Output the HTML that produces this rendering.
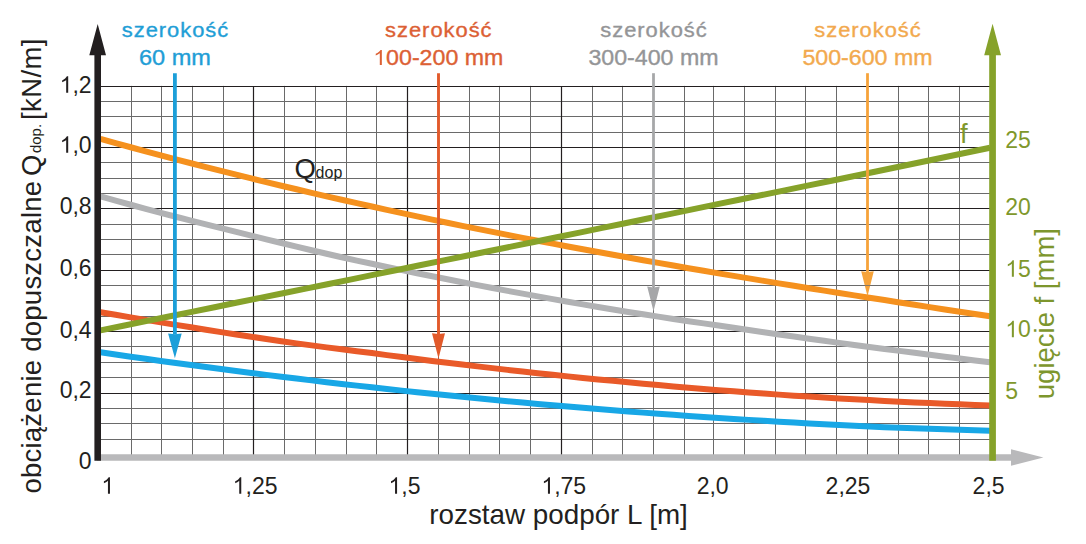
<!DOCTYPE html>
<html lang="pl"><head><meta charset="utf-8"><title>wykres</title>
<style>html,body{margin:0;padding:0;background:#fff;}body{width:1086px;height:544px;overflow:hidden;}</style>
</head><body>
<svg width="1086" height="544" viewBox="0 0 1086 544" style="display:block;font-family:'Liberation Sans', sans-serif">
<rect width="1086" height="544" fill="#ffffff"/>
<path d="M131.5,85.9V457.0 M161.5,85.9V457.0 M192.5,85.9V457.0 M223.5,85.9V457.0 M284.5,85.9V457.0 M315.5,85.9V457.0 M346.5,85.9V457.0 M376.5,85.9V457.0 M438.5,85.9V457.0 M469.5,85.9V457.0 M499.5,85.9V457.0 M530.5,85.9V457.0 M592.5,85.9V457.0 M622.5,85.9V457.0 M653.5,85.9V457.0 M684.5,85.9V457.0 M713.5,85.9V457.0 M744.5,85.9V457.0 M775.5,85.9V457.0 M805.5,85.9V457.0 M836.5,85.9V457.0 M867.5,85.9V457.0 M898.5,85.9V457.0 M928.5,85.9V457.0 M959.5,85.9V457.0 M98.0,101.5H992.0 M98.0,116.5H992.0 M98.0,132.5H992.0 M98.0,162.5H992.0 M98.0,178.5H992.0 M98.0,193.5H992.0 M98.0,224.5H992.0 M98.0,239.5H992.0 M98.0,254.5H992.0 M98.0,285.5H992.0 M98.0,300.5H992.0 M98.0,316.5H992.0 M98.0,346.5H992.0 M98.0,362.5H992.0 M98.0,377.5H992.0 M98.0,408.5H992.0 M98.0,423.5H992.0 M98.0,439.5H992.0" stroke="#6a6a6a" stroke-width="1" fill="none"/>
<path d="M253.5,85.9V457.0 M407.5,85.9V457.0 M561.5,85.9V457.0 M98.0,86.5H992.0 M98.0,147.5H992.0 M98.0,208.5H992.0 M98.0,270.5H992.0 M98.0,331.5H992.0 M98.0,393.5H992.0" stroke="#231f20" stroke-width="1.2" fill="none"/>
<text x="294.6" y="178.4" font-size="27.5" fill="#231f20">Q<tspan font-size="16" dx="-0.4">dop</tspan></text>
<path d="M100.5,138.95 L115.6,143.13 L130.7,147.25 L145.7,151.33 L160.8,155.35 L175.9,159.31 L191.0,163.23 L206.0,167.10 L221.1,170.92 L236.2,174.69 L251.3,178.41 L266.3,182.08 L281.4,185.71 L296.5,189.29 L311.6,192.82 L326.6,196.32 L341.7,199.76 L356.8,203.17 L371.9,206.53 L386.9,209.85 L402.0,213.13 L417.1,216.36 L432.2,219.56 L447.3,222.72 L462.3,225.82 L477.4,228.87 L492.5,231.89 L507.6,234.87 L522.6,237.82 L537.7,240.73 L552.8,243.61 L567.9,246.45 L582.9,249.26 L598.0,252.04 L613.1,254.78 L628.2,257.51 L643.2,260.22 L658.3,262.90 L673.4,265.56 L688.5,268.18 L703.6,270.78 L718.6,273.34 L733.7,275.89 L748.8,278.40 L763.9,280.90 L778.9,283.36 L794.0,285.81 L809.1,288.23 L824.2,290.63 L839.2,293.01 L854.3,295.36 L869.4,297.70 L884.5,300.08 L899.5,302.44 L914.6,304.78 L929.7,307.11 L944.8,309.41 L959.8,311.71 L974.9,313.98 L990.0,316.24" stroke="#f5911e" stroke-width="6.0" fill="none"/>
<path d="M100.5,196.45 L115.6,200.63 L130.7,204.74 L145.7,208.79 L160.8,212.79 L175.9,216.73 L191.0,220.60 L206.0,224.42 L221.1,228.19 L236.2,231.90 L251.3,235.55 L266.3,239.29 L281.4,242.99 L296.5,246.64 L311.6,250.24 L326.6,253.79 L341.7,257.27 L356.8,260.56 L371.9,263.80 L386.9,266.99 L402.0,270.13 L417.1,273.23 L432.2,276.28 L447.3,279.29 L462.3,282.25 L477.4,285.16 L492.5,288.04 L507.6,290.87 L522.6,293.65 L537.7,296.40 L552.8,299.11 L567.9,301.77 L582.9,304.40 L598.0,306.99 L613.1,309.52 L628.2,311.92 L643.2,314.28 L658.3,316.61 L673.4,318.91 L688.5,321.17 L703.6,323.39 L718.6,325.59 L733.7,327.78 L748.8,330.02 L763.9,332.23 L778.9,334.42 L794.0,336.57 L809.1,338.70 L824.2,340.80 L839.2,342.87 L854.3,344.91 L869.4,346.93 L884.5,348.93 L899.5,350.90 L914.6,352.84 L929.7,354.77 L944.8,356.67 L959.8,358.55 L974.9,360.41 L990.0,362.25" stroke="#b1b2b4" stroke-width="6.0" fill="none"/>
<path d="M100.5,312.21 L115.6,314.80 L130.7,317.37 L145.7,319.90 L160.8,322.41 L175.9,324.88 L191.0,327.32 L206.0,329.72 L221.1,332.10 L236.2,334.44 L251.3,336.74 L266.3,339.02 L281.4,341.26 L296.5,343.39 L311.6,345.39 L326.6,347.35 L341.7,349.27 L356.8,351.16 L371.9,353.10 L386.9,355.10 L402.0,357.07 L417.1,359.01 L432.2,360.90 L447.3,362.77 L462.3,364.59 L477.4,366.38 L492.5,368.14 L507.6,369.86 L522.6,371.54 L537.7,373.18 L552.8,374.79 L567.9,376.36 L582.9,377.90 L598.0,379.40 L613.1,380.86 L628.2,382.30 L643.2,383.71 L658.3,385.08 L673.4,386.41 L688.5,387.70 L703.6,388.95 L718.6,390.16 L733.7,391.34 L748.8,392.47 L763.9,393.57 L778.9,394.62 L794.0,395.64 L809.1,396.61 L824.2,397.55 L839.2,398.44 L854.3,399.29 L869.4,400.11 L884.5,400.91 L899.5,401.68 L914.6,402.41 L929.7,403.10 L944.8,403.74 L959.8,404.34 L974.9,404.90 L990.0,405.41" stroke="#e95a29" stroke-width="6.0" fill="none"/>
<path d="M100.5,352.31 L115.6,354.51 L130.7,356.69 L145.7,358.83 L160.8,360.94 L175.9,363.02 L191.0,365.07 L206.0,367.09 L221.1,369.08 L236.2,371.04 L251.3,372.97 L266.3,374.87 L281.4,376.74 L296.5,378.58 L311.6,380.39 L326.6,382.17 L341.7,383.92 L356.8,385.63 L371.9,387.32 L386.9,388.98 L402.0,390.61 L417.1,392.21 L432.2,393.78 L447.3,395.32 L462.3,396.82 L477.4,398.30 L492.5,399.75 L507.6,401.17 L522.6,402.56 L537.7,403.92 L552.8,405.25 L567.9,406.56 L582.9,407.83 L598.0,409.07 L613.1,410.28 L628.2,411.47 L643.2,412.62 L658.3,413.75 L673.4,414.84 L688.5,415.91 L703.6,416.95 L718.6,417.95 L733.7,418.93 L748.8,419.88 L763.9,420.80 L778.9,421.70 L794.0,422.56 L809.1,423.39 L824.2,424.20 L839.2,424.97 L854.3,425.72 L869.4,426.44 L884.5,427.13 L899.5,427.79 L914.6,428.34 L929.7,428.86 L944.8,429.35 L959.8,429.81 L974.9,430.25 L990.0,430.66" stroke="#18a7e6" stroke-width="6.0" fill="none"/>
<path d="M100.5,330.40 L123.3,325.76 L146.1,321.12 L168.9,316.48 L191.7,311.83 L214.5,307.19 L237.3,302.55 L260.2,297.91 L283.0,293.26 L305.8,288.62 L328.6,283.98 L351.4,279.32 L374.2,274.65 L397.0,269.98 L419.8,265.30 L442.6,260.63 L465.4,255.96 L488.2,251.28 L511.0,246.61 L533.8,241.94 L556.7,237.26 L579.5,232.59 L602.3,227.92 L625.1,223.23 L647.9,218.53 L670.7,213.83 L693.5,209.13 L716.3,204.43 L739.1,199.73 L761.9,195.04 L784.7,190.34 L807.5,185.64 L830.3,180.94 L853.2,176.24 L876.0,171.53 L898.8,166.78 L921.6,162.03 L944.4,157.29 L967.2,152.54 L990.0,147.79" stroke="#86a22a" stroke-width="6.0" fill="none"/>
<path d="M174.9,73.2V334.4" stroke="#1c9fd9" stroke-width="3.8" fill="none"/>
<path d="M168.10,333.4L174.9,334.2L181.70,333.4L174.9,358.3Z" fill="#1c9fd9"/>
<path d="M438.5,73.2V334.3" stroke="#e25a2b" stroke-width="2.9" fill="none"/>
<path d="M432.00,333.3L438.5,334.1L445.00,333.3L438.5,358.5Z" fill="#e25a2b"/>
<path d="M653.5,73.2V287.6" stroke="#a6a7a9" stroke-width="2.8" fill="none"/>
<path d="M647.20,286.6L653.5,287.40000000000003L659.80,286.6L653.5,311.2Z" fill="#a6a7a9"/>
<path d="M867.5,73.2V272.3" stroke="#f6a33a" stroke-width="2.8" fill="none"/>
<path d="M861.20,271.3L867.5,272.1L873.80,271.3L867.5,296.2Z" fill="#f6a33a"/>
<path d="M649.3,300.5H657.7M863.9,285.5H871.1" stroke="#6a6a6a" stroke-width="1" opacity="0.75" fill="none"/>
<path d="M97,454.2H1011V449.2L1043.4,457.5L1011,465.8V460.8H97Z" fill="#b9b9bb"/>
<path d="M94.4,460.8V55.2H89.3L97.7,24L106,55.2H101V460.8Z" fill="#231f20"/>
<path d="M989.2,460.8V55.2H984.2L992.6,23.8L1001,55.2H995.9V460.8Z" fill="#86a22a"/>
<g transform="translate(101.4,493.7) scale(1.0,1.04)" font-size="23" fill="#231f20"  style="font-kerning:none;white-space:pre"><path transform="translate(0.00,0) scale(0.01123,-0.01123)" d="M763 0H583V1102Q518 1043 412 983Q307 924 223 894V1061Q374 1129 487 1226Q600 1323 647 1409H763Z"/></g>
<g transform="translate(232.7,493.7) scale(1.0,1.04)" font-size="23" fill="#231f20"  style="font-kerning:none;white-space:pre"><path transform="translate(0.00,0) scale(0.01123,-0.01123)" d="M763 0H583V1102Q518 1043 412 983Q307 924 223 894V1061Q374 1129 487 1226Q600 1323 647 1409H763Z"/><text x="12.79" y="0">,25</text></g>
<g transform="translate(388.5,493.7) scale(1.0,1.04)" font-size="23" fill="#231f20"  style="font-kerning:none;white-space:pre"><path transform="translate(0.00,0) scale(0.01123,-0.01123)" d="M763 0H583V1102Q518 1043 412 983Q307 924 223 894V1061Q374 1129 487 1226Q600 1323 647 1409H763Z"/><text x="12.79" y="0">,5</text></g>
<g transform="translate(541.4,493.7) scale(1.0,1.04)" font-size="23" fill="#231f20"  style="font-kerning:none;white-space:pre"><path transform="translate(0.00,0) scale(0.01123,-0.01123)" d="M763 0H583V1102Q518 1043 412 983Q307 924 223 894V1061Q374 1129 487 1226Q600 1323 647 1409H763Z"/><text x="12.79" y="0">,75</text></g>
<g transform="translate(696.7,493.7) scale(1.0,1.04)" font-size="23" fill="#231f20"  style="font-kerning:none;white-space:pre"><text x="0.00" y="0">2,0</text></g>
<g transform="translate(825.6,493.7) scale(1.0,1.04)" font-size="23" fill="#231f20"  style="font-kerning:none;white-space:pre"><text x="0.00" y="0">2,25</text></g>
<g transform="translate(972.6,493.7) scale(1.0,1.04)" font-size="23" fill="#231f20"  style="font-kerning:none;white-space:pre"><text x="0.00" y="0">2,5</text></g>
<g transform="translate(91.6,92.8) scale(1.0,1.04)" font-size="23" fill="#231f20"  style="font-kerning:none;white-space:pre"><path transform="translate(-31.97,0) scale(0.01123,-0.01123)" d="M763 0H583V1102Q518 1043 412 983Q307 924 223 894V1061Q374 1129 487 1226Q600 1323 647 1409H763Z"/><text x="-19.18" y="0">,2</text></g>
<g transform="translate(91.6,152.8) scale(1.0,1.04)" font-size="23" fill="#231f20"  style="font-kerning:none;white-space:pre"><path transform="translate(-31.97,0) scale(0.01123,-0.01123)" d="M763 0H583V1102Q518 1043 412 983Q307 924 223 894V1061Q374 1129 487 1226Q600 1323 647 1409H763Z"/><text x="-19.18" y="0">,0</text></g>
<g transform="translate(91.6,214.2) scale(1.0,1.04)" font-size="23" fill="#231f20"  style="font-kerning:none;white-space:pre"><text x="-31.97" y="0">0,8</text></g>
<g transform="translate(91.6,275.9) scale(1.0,1.04)" font-size="23" fill="#231f20"  style="font-kerning:none;white-space:pre"><text x="-31.97" y="0">0,6</text></g>
<g transform="translate(91.6,337.8) scale(1.0,1.04)" font-size="23" fill="#231f20"  style="font-kerning:none;white-space:pre"><text x="-31.97" y="0">0,4</text></g>
<g transform="translate(91.6,398.0) scale(1.0,1.04)" font-size="23" fill="#231f20"  style="font-kerning:none;white-space:pre"><text x="-31.97" y="0">0,2</text></g>
<g transform="translate(91.6,468.5) scale(1.0,1.04)" font-size="23" fill="#231f20"  style="font-kerning:none;white-space:pre"><text x="-12.79" y="0">0</text></g>
<g transform="translate(1005.3,147.6) scale(1.0,1.04)" font-size="23" fill="#7f982c"  style="font-kerning:none;white-space:pre"><text x="0.00" y="0">25</text></g>
<g transform="translate(1005.3,214.8) scale(1.0,1.04)" font-size="23" fill="#7f982c"  style="font-kerning:none;white-space:pre"><text x="0.00" y="0">20</text></g>
<g transform="translate(1005.3,276.7) scale(1.0,1.04)" font-size="23" fill="#7f982c"  style="font-kerning:none;white-space:pre"><path transform="translate(0.00,0) scale(0.01123,-0.01123)" d="M763 0H583V1102Q518 1043 412 983Q307 924 223 894V1061Q374 1129 487 1226Q600 1323 647 1409H763Z"/><text x="12.79" y="0">5</text></g>
<g transform="translate(1005.3,337.2) scale(1.0,1.04)" font-size="23" fill="#7f982c"  style="font-kerning:none;white-space:pre"><path transform="translate(0.00,0) scale(0.01123,-0.01123)" d="M763 0H583V1102Q518 1043 412 983Q307 924 223 894V1061Q374 1129 487 1226Q600 1323 647 1409H763Z"/><text x="12.79" y="0">0</text></g>
<g transform="translate(1005.3,398.6) scale(1.0,1.04)" font-size="23" fill="#7f982c"  style="font-kerning:none;white-space:pre"><text x="0.00" y="0">5</text></g>
<text x="960.0" y="142.6" font-size="27.5" fill="#7f982c">f</text>
<text x="429.3" y="524.1" font-size="27.8" fill="#231f20">rozstaw podpór L [m]</text>
<text transform="translate(41.2,493.6) rotate(-90)" x="0" font-size="27.5" fill="#231f20" textLength="312.7" lengthAdjust="spacing">obciążenie dopuszczalne</text>
<text transform="translate(41.2,493.6) rotate(-90)" x="317.5" font-size="27.5" fill="#231f20">Q</text>
<text transform="translate(41.2,493.6) rotate(-90)" x="340.5" font-size="15" fill="#231f20">dop.</text>
<text transform="translate(41.2,493.6) rotate(-90)" x="373.7" font-size="27.5" fill="#231f20" textLength="81.4" lengthAdjust="spacing">[kN/m]</text>
<text transform="translate(1053.5,399.2) rotate(-90)" font-size="27.5" fill="#7d962d">ugięcie f [mm]</text>
<text transform="translate(175.49,37.0) scale(1.07,1)" font-size="20.5" fill="#1f9ed6" stroke="#1f9ed6" stroke-width="0.35" paint-order="stroke" text-anchor="middle" letter-spacing="0.908">szerokość</text>
<g transform="translate(175.0,64.9) scale(1.0958,1.0)" font-size="21.5" fill="#1f9ed6" stroke="#1f9ed6" stroke-width="0.35" paint-order="stroke" style="font-kerning:none;white-space:pre"><text x="-32.85" y="0">60 mm</text></g>
<text transform="translate(438.79,37.0) scale(1.07,1)" font-size="20.5" fill="#dc6034" stroke="#dc6034" stroke-width="0.35" paint-order="stroke" text-anchor="middle" letter-spacing="0.908">szerokość</text>
<g transform="translate(438.3,64.9) scale(1.0787,1.0)" font-size="21.5" fill="#dc6034" stroke="#dc6034" stroke-width="0.35" paint-order="stroke" style="font-kerning:none;white-space:pre"><path transform="translate(-60.35,0) scale(0.01050,-0.01050)" d="M763 0H583V1102Q518 1043 412 983Q307 924 223 894V1061Q374 1129 487 1226Q600 1323 647 1409H763Z"/><text x="-48.39" y="0">00-200 mm</text></g>
<text transform="translate(653.99,37.0) scale(1.07,1)" font-size="20.5" fill="#949597" stroke="#949597" stroke-width="0.35" paint-order="stroke" text-anchor="middle" letter-spacing="0.908">szerokość</text>
<g transform="translate(653.5,64.9) scale(1.0787,1.0)" font-size="21.5" fill="#949597" stroke="#949597" stroke-width="0.35" paint-order="stroke" style="font-kerning:none;white-space:pre"><text x="-60.35" y="0">300-400 mm</text></g>
<text transform="translate(867.99,37.0) scale(1.07,1)" font-size="20.5" fill="#f2a94e" stroke="#f2a94e" stroke-width="0.35" paint-order="stroke" text-anchor="middle" letter-spacing="0.908">szerokość</text>
<g transform="translate(867.5,64.9) scale(1.0787,1.0)" font-size="21.5" fill="#f2a94e" stroke="#f2a94e" stroke-width="0.35" paint-order="stroke" style="font-kerning:none;white-space:pre"><text x="-60.35" y="0">500-600 mm</text></g>
</svg>
</body></html>
